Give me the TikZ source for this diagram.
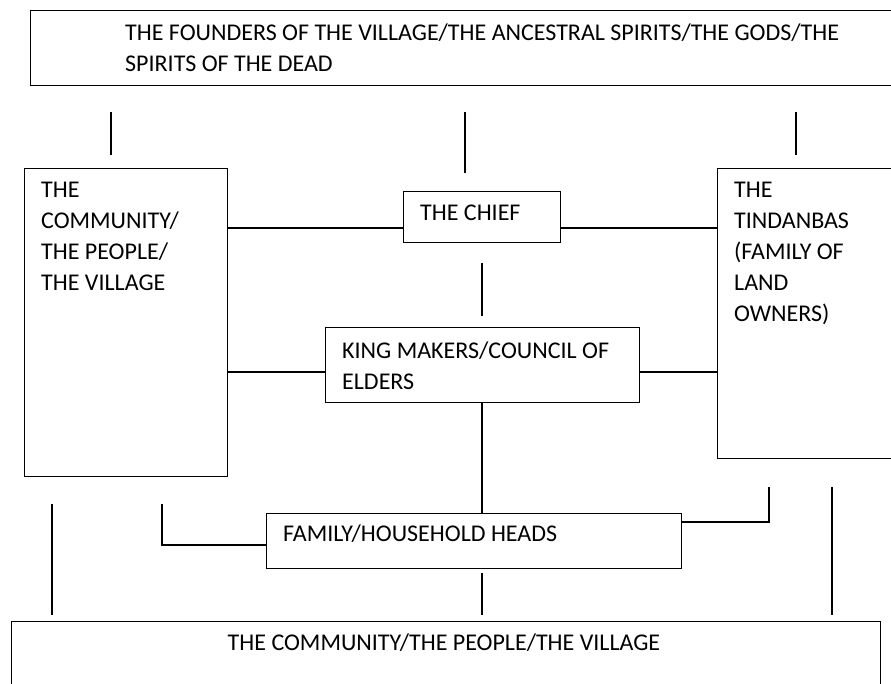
\documentclass[tikz,border=0pt]{standalone}
\usepackage{fontspec}
\setmainfont{Carlito}
\begin{document}
\begin{tikzpicture}[x=1pt,y=-1pt,
  box/.style={draw, line width=1.2pt, inner sep=0pt, anchor=north west},
  txt/.style={anchor=north west, inner sep=0pt, align=left, font=\fontsize{24}{31}\selectfont},
  link/.style={line width=1.2pt}]
\useasboundingbox (0,0) rectangle (891,684);
\clip (0,0) rectangle (891,684);
% boxes
\node[box, minimum width=880pt, minimum height=75pt] (top) at (30,10) {};
\node[box, minimum width=203pt, minimum height=308pt] (comm) at (24,168) {};
\node[box, minimum width=157pt, minimum height=51pt] (chief) at (403,191) {};
\node[box, minimum width=200pt, minimum height=290pt] (tind) at (717,168) {};
\node[box, minimum width=314pt, minimum height=75pt] (king) at (325,327) {};
\node[box, minimum width=415pt, minimum height=55pt] (fam) at (266,513) {};
\node[box, minimum width=869pt, minimum height=90pt] (bot) at (11,621) {};
% texts
\node[txt] (ttop) at (125,24) {\rule{0pt}{15pt}THE FOUNDERS OF THE VILLAGE/THE ANCESTRAL SPIRITS/THE GODS/THE\\SPIRITS OF THE DEAD};
\node[txt] (tcomm) at (41,182) {\rule{0pt}{15pt}THE\\COMMUNITY/\\THE PEOPLE/\\THE VILLAGE};
\node[txt] (tchief) at (420,205) {\rule{0pt}{15pt}THE CHIEF};
\node[txt] (ttind) at (734,182) {\rule{0pt}{15pt}THE\\TINDANBAS\\(FAMILY OF\\LAND\\OWNERS)};
\node[txt] (tking) at (342,342) {\rule{0pt}{15pt}KING MAKERS/COUNCIL OF\\ELDERS};
\node[txt] (tfam) at (283,525) {\rule{0pt}{15pt}FAMILY/HOUSEHOLD HEADS};
\node[txt, anchor=north] (tbot) at (444,634) {\rule{0pt}{15pt}THE COMMUNITY/THE PEOPLE/THE VILLAGE};
% free-end coordinates
\coordinate (a1) at (111,112); \coordinate (a2) at (111,155);
\coordinate (b1) at (465,112); \coordinate (b2) at (465,173);
\coordinate (c1) at (796,112); \coordinate (c2) at (796,155);
\coordinate (d1) at (482,263); \coordinate (d2) at (482,316);
\coordinate (e1) at (162,504); \coordinate (e2) at (162,545);
\coordinate (f1) at (769,487);
\coordinate (g1) at (52,504); \coordinate (g2) at (52,615);
\coordinate (h1) at (832,487); \coordinate (h2) at (832,615);
\coordinate (k1) at (482,573); \coordinate (k2) at (482,615);
\coordinate (yc) at (0,228);
\coordinate (yk) at (0,372);
\coordinate (yf) at (0,522);
% connectors
\draw[link] (a1) -- (a2);
\draw[link] (b1) -- (b2);
\draw[link] (c1) -- (c2);
\draw[link] (comm.east |- yc) -- (chief.west |- yc);
\draw[link] (chief.east |- yc) -- (tind.west |- yc);
\draw[link] (d1) -- (d2);
\draw[link] (comm.east |- yk) -- (king.west |- yk);
\draw[link] (king.east |- yk) -- (tind.west |- yk);
\draw[link] (king.south -| d1) -- (d1 |- fam.north);
\draw[link] (e1) -- (e2) -- (fam.west |- e2);
\draw[link] (fam.east |- yf) -- (f1 |- yf) -- (f1);
\draw[link] (g1) -- (g2);
\draw[link] (h1) -- (h2);
\draw[link] (k1) -- (k2);
\end{tikzpicture}
\end{document}
